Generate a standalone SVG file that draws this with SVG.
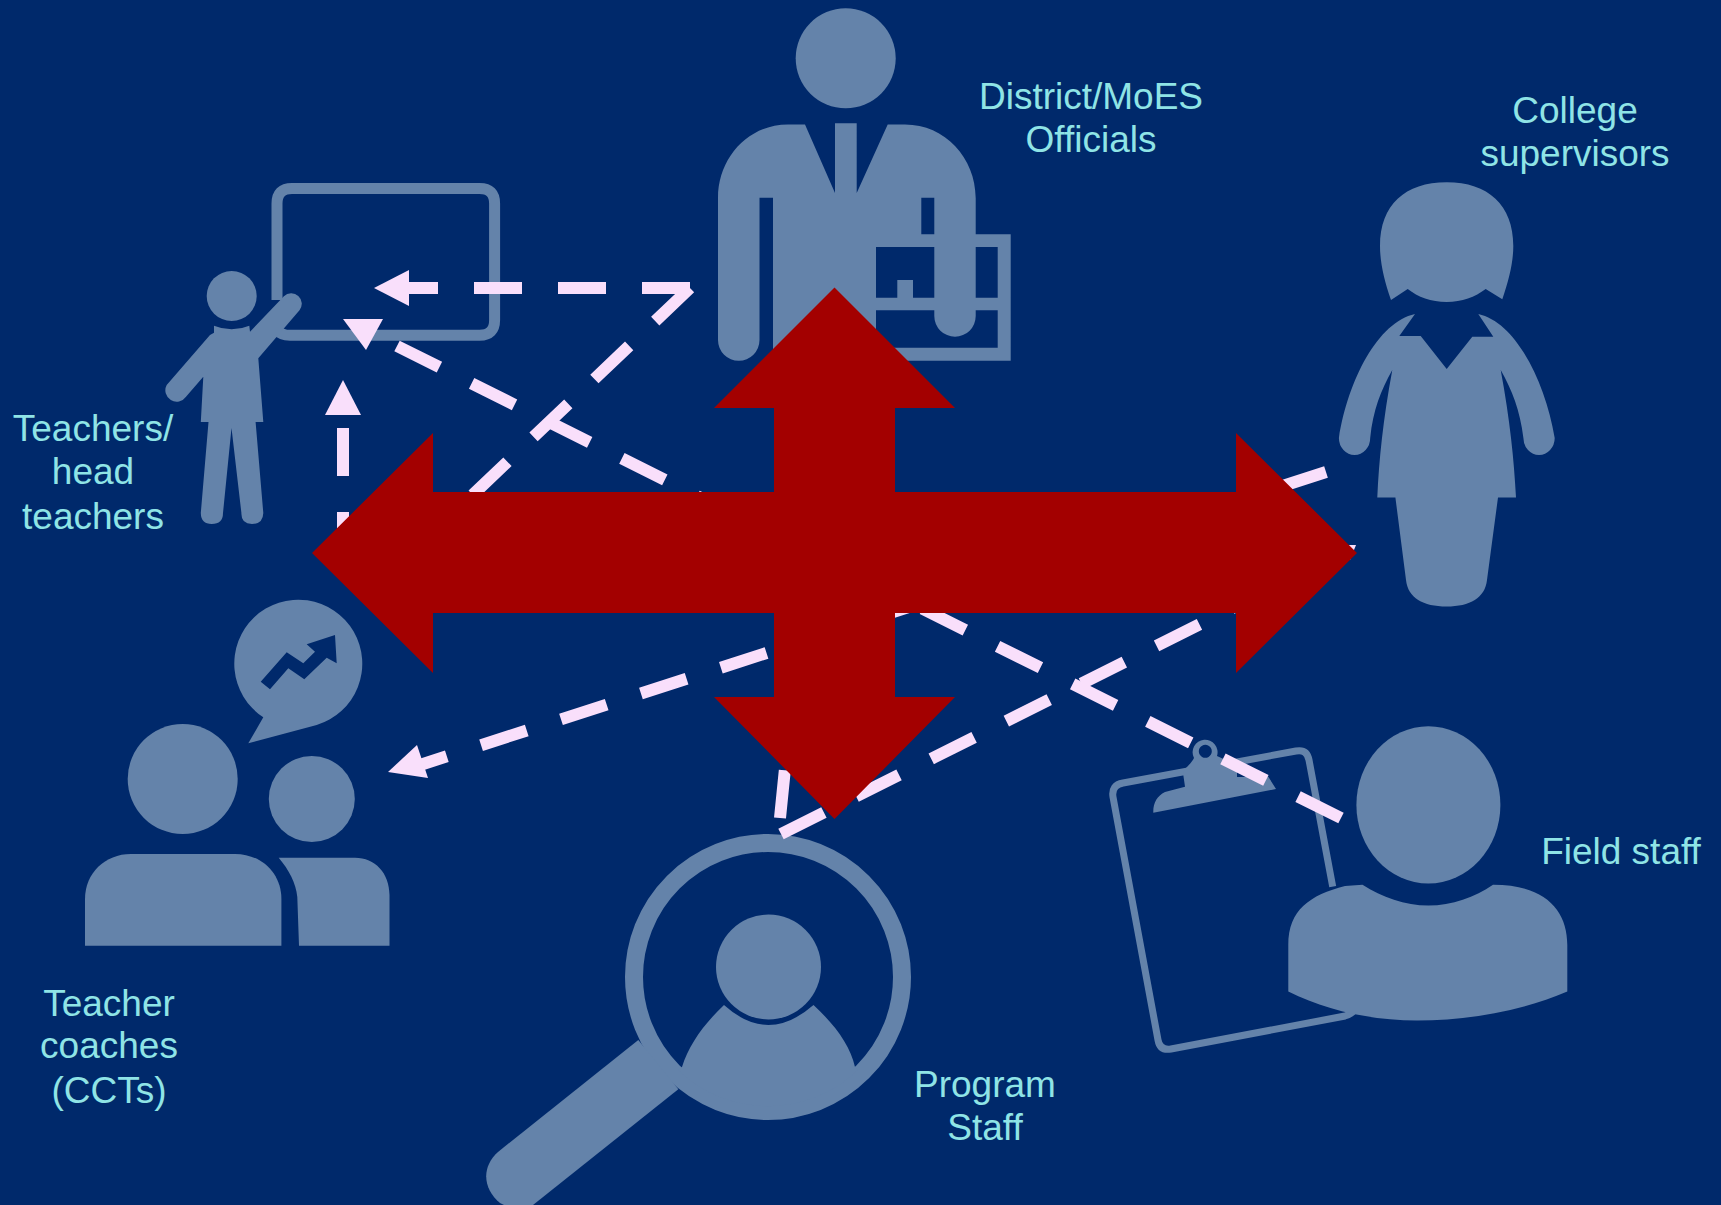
<svg xmlns="http://www.w3.org/2000/svg" width="1721" height="1205" viewBox="0 0 1721 1205">
<style>
.i{fill:#6483aa}
.h{fill:#00296b}
.o{fill:none;stroke:#6483aa}
.t{font-family:"Liberation Sans",Arial,sans-serif;font-size:37px;fill:#8fe4e6;text-anchor:middle}
.d{fill:none;stroke:#f9dffb;stroke-width:12;stroke-dasharray:48 36}
.a{fill:#f9dffb}
</style>
<rect width="1721" height="1205" fill="#00296b"/>
<g id="teachers">
<path class="o" stroke-width="11" d="M277,300 V203.5 Q277,188.5 292,188.5 H479.6 Q494.6,188.5 494.6,203.5 V320 Q494.6,335.3 479.6,335.3 H290 Q281,335.3 277,330"/>
<circle class="i" cx="231.7" cy="296" r="25"/>
<path class="i" d="M214,325.7 Q231.7,333 249.3,325.7 L250,331.7 L283.9,296.3 A10.5,10.5 0 0 1 299.5,310.3 L258.3,358.3 L263.3,422 H255.6 L263.3,513 Q263,524 252,524 Q241,524 241.4,513 L231.5,428 L223,513 Q223,524 211.7,524 Q201,524 200.8,513 L208.5,422 H200.8 L203.3,376.7 L186,396.7 A11.3,11.3 0 0 1 166.7,385 L210,335 L214,332.7 Z"/>
<text class="t" x="93" y="440.5">Teachers/</text>
<text class="t" x="93" y="484">head</text>
<text class="t" x="93" y="528.5">teachers</text>
</g>
<g id="officials">
<circle class="i" cx="845.7" cy="58.3" r="50"/>
<path class="i" fill-rule="evenodd" d="M805,124.5 L835,193 V123.3 H856.7 V193 L887.7,124.5 H905 C945,124.5 975.7,158 975.7,198 V234.3 H1010.7 V360.7 H773 V197.7 H759.5 V340 A20.75,20.75 0 0 1 718,340 V198 C718,158 748,124.5 788,124.5 Z M921.3,197.7 H934.3 V234.3 H921.3 Z M876,247 H934.3 V297.7 H913 V280 H897.3 V297.7 H876 Z M975.7,247 H997.7 V297.7 H975.7 Z M876,310.3 H934.3 V316 A20.7,20.7 0 0 0 975.7,316 V310.3 H997.7 V347.7 H876 Z"/>
<text class="t" x="1091" y="108.5">District/MoES</text>
<text class="t" x="1091" y="151.5">Officials</text>
</g>
<g id="college-supervisors">
<path class="i" d="M1391,300 C1384,280 1380,262 1380,246 C1380,205 1405,182.3 1446.7,182.3 C1488,182.3 1513.3,205 1513.3,246 C1513.3,262 1509,280 1502.3,299.3 L1485.7,289 C1475,297 1462,302 1446.7,302 C1431,302 1418,297 1407.7,289 Z"/>
<path class="i" d="M1415,314 L1399.3,336 H1420.7 L1446.7,369 L1472.3,336.7 H1493.3 L1478.3,314 C1515,322 1545,380 1554.7,438 A15.65,17 0 0 1 1523.4,438 C1520,410 1512,390 1500.7,370 C1510,420 1514,460 1516,497.5 H1498 L1487,580 C1485,598 1470,606.5 1446.7,606.5 C1423,606.5 1408,598 1406,580 L1395.4,497.5 H1377.3 C1379,460 1383,420 1392.3,370 C1381,390 1373,410 1370.2,438 A15.65,17 0 0 1 1338.9,438 C1348,380 1378,322 1415,314 Z"/>
<text class="t" x="1575" y="122.5">College</text>
<text class="t" x="1575" y="165.5">supervisors</text>
</g>
<g id="teacher-coaches">
<path class="i" d="M263.3,717.3 A64,64 0 1 1 316.7,725 L248.3,743.3 Z"/>
<path class="h" d="M260.7,681.7 L286.7,652.3 L303.3,663.3 L315,651.7 L306.7,644.3 L335,635 L336.7,663.3 L326.7,657.7 L304.3,679.3 L288.3,668.3 L270,689.3 Z"/>
<circle class="i" cx="182.7" cy="779" r="55"/>
<circle class="i" cx="311.8" cy="799" r="43"/>
<path class="i" d="M85,945.7 V899 C85,873 105,853.9 131,853.9 H235 C261,853.9 281.4,873 281.4,899 V945.7 Z"/>
<path class="i" d="M278.7,857.7 H355 C375,857.7 389.5,873 389.5,895 V945.7 H299 L297.3,897 C296,883 289,870 278.7,857.7 Z"/>
<text class="t" x="109" y="1015.5">Teacher</text>
<text class="t" x="109" y="1057.5">coaches</text>
<text class="t" x="109" y="1103">(CCTs)</text>
</g>
<g id="program-staff">
<circle class="o" stroke-width="18" cx="768" cy="977" r="134"/>
<path class="i" d="M638.3,1040 L498.3,1151.7 C480,1168 484,1190 500,1203 L504,1205 H533 L678.3,1089.3 Z"/>
<circle class="i" cx="768.5" cy="967" r="52.5"/>
<path class="i" d="M724,1005 Q768,1045 813.5,1005 C835,1025 850,1045 855,1067 L858,1070 A130,130 0 0 1 678,1070 L682,1067 C689,1045 703,1025 724,1005 Z"/>
<text class="t" x="985" y="1096.5">Program</text>
<text class="t" x="985" y="1139.5">Staff</text>
</g>
<g id="field-staff">
<path class="o" stroke-width="7" d="M1332.7,886.7 L1309,760 Q1307,749 1296,751 L1123,783 Q1111,785 1113,797 L1158,1040 Q1160,1051 1171,1049 L1345,1016 Q1352,1014 1356,1008"/>
<path class="i" fill-rule="evenodd" d="M1153.3,812.7 C1153,803 1157,796 1165,792 L1185,786.7 L1183.3,775 C1183,768 1190,766 1194,758 A12.5,12.5 0 1 1 1217,756 L1236.7,765 L1268.3,776.7 L1276,789 Z M1205.3,744.8 a6.5,6.5 0 1 0 0.01,0 Z M1237,771 H1246 V777 H1237 Z"/>
<ellipse class="i" cx="1428.4" cy="804.9" rx="72" ry="78.7"/>
<path class="i" d="M1362.5,884.7 C1382,897 1405,905.6 1428.4,905.6 C1452,905.6 1475,897 1493,884.7 C1545,884.7 1567.3,910 1567.3,945 V991.6 C1520,1012 1465,1020.5 1417,1020.5 C1370,1020.5 1325,1010 1288.3,991.6 V945 C1288.3,910 1310,895 1345,886 Z"/>
<text class="t" x="1621" y="864">Field staff</text>
</g>
<g id="connectors">
<path class="d" d="M690,288 H409"/>
<path class="d" d="M690,288 L472.5,495"/>
<path class="d" d="M1341,818 L397,346"/>
<path class="d" d="M343,560 V415"/>
<path class="d" d="M1326,472 L420,765"/>
<path class="d" d="M781,834 L1350,549"/>
<path class="d" d="M780,818 L805,570"/>
<polygon class="a" points="374,288 409,270 409,306"/>
<polygon class="a" points="343,319 383,319 366,350"/>
<polygon class="a" points="343,380 325,415 361,415"/>
<polygon class="a" points="388,772 417,745 428,778"/>
<polygon class="a" points="1345,545 1356,545 1350,560"/>
</g>
<g id="cross">
<polygon fill="#a30000" points="834.5,287.5 955,408 895,408 895,492 1236,492 1236,433 1357,553 1236,673 1236,613 895,613 895,697 955,697 834.5,819 714,697 774,697 774,613 433,613 433,673 312,553 433,433 433,492 774,492 774,408 714,408"/>
</g>
</svg>
